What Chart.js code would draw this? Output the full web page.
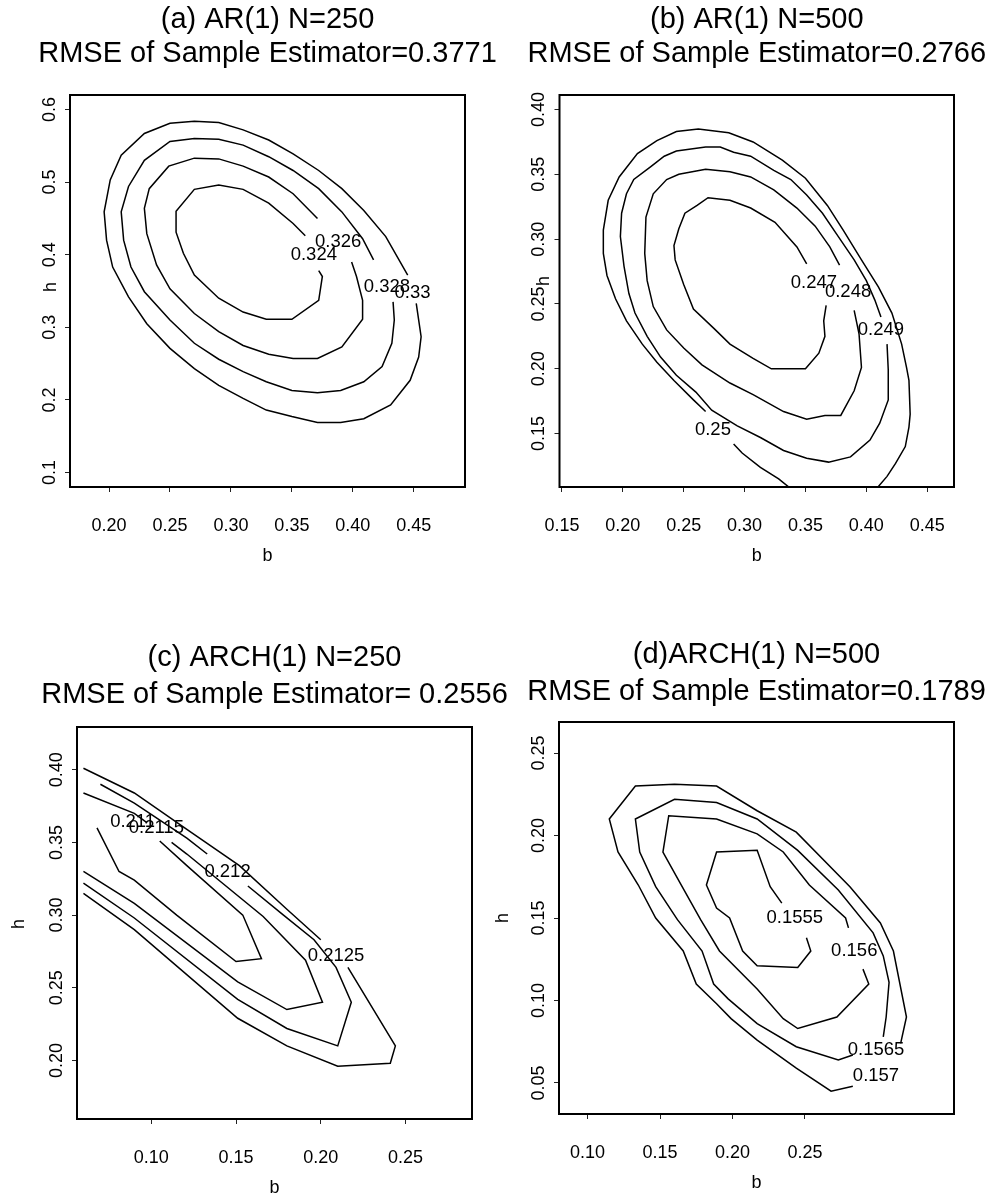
<!DOCTYPE html>
<html>
<head>
<meta charset="utf-8">
<title>RMSE contours over b and h</title>
<script src="https://cdn.jsdelivr.net/npm/chart.js@4.4.1/dist/chart.umd.min.js"></script>
<style>
  html, body { margin: 0; padding: 0; background: #fff; }
  #page { position: relative; width: 993px; height: 1196px; background: #fff; }
  #page canvas { position: absolute; left: 0; top: 0; }
</style>
</head>
<body>
<div id="page">
  <canvas id="panelA" width="993" height="1196"></canvas>
  <canvas id="panelB" width="993" height="1196"></canvas>
  <canvas id="panelC" width="993" height="1196"></canvas>
  <canvas id="panelD" width="993" height="1196"></canvas>
</div>
<script>
// contour lines are [b, h] pairs; null marks a break where a level label sits

// (a) AR(1) N=250
const levelsA = ['0.324', '0.326', '0.328', '0.33'];
const lineA1 = [[0.372,0.378],[0.375,0.370],[0.372,0.337],[0.350,0.311],[0.329,0.311],[0.310,0.321],[0.290,0.340],[0.270,0.372],[0.261,0.402],[0.255,0.431],[0.255,0.460],[0.270,0.490],[0.290,0.496],[0.310,0.490],[0.331,0.471],[0.351,0.443],[0.361,0.426]];
const lineA2 = [[0.399,0.390],[0.403,0.370],[0.408,0.337],[0.408,0.311],[0.391,0.273],[0.371,0.257],[0.351,0.257],[0.331,0.263],[0.310,0.275],[0.290,0.294],[0.270,0.319],[0.250,0.353],[0.239,0.386],[0.231,0.429],[0.229,0.464],[0.233,0.491],[0.249,0.522],[0.270,0.533],[0.290,0.532],[0.310,0.522],[0.331,0.507],[0.351,0.484],[0.371,0.450]];
const lineA3 = [[0.433,0.335],[0.434,0.310],[0.432,0.278],[0.424,0.246],[0.409,0.225],[0.390,0.213],[0.371,0.210],[0.350,0.213],[0.329,0.225],[0.310,0.239],[0.290,0.256],[0.270,0.278],[0.250,0.310],[0.229,0.349],[0.218,0.383],[0.212,0.420],[0.210,0.459],[0.216,0.494],[0.229,0.530],[0.250,0.556],[0.270,0.560],[0.290,0.559],[0.310,0.551],[0.331,0.535],[0.351,0.516],[0.372,0.491],[0.391,0.459],[0.408,0.422],[0.417,0.393]];
const lineA4 = [[0.452,0.333],[0.456,0.287],[0.454,0.259],[0.447,0.227],[0.431,0.193],[0.409,0.174],[0.390,0.169],[0.371,0.169],[0.350,0.177],[0.329,0.186],[0.310,0.202],[0.290,0.220],[0.270,0.243],[0.250,0.271],[0.231,0.305],[0.216,0.342],[0.203,0.383],[0.198,0.420],[0.196,0.459],[0.201,0.503],[0.210,0.537],[0.229,0.567],[0.250,0.581],[0.270,0.584],[0.290,0.582],[0.310,0.572],[0.331,0.558],[0.351,0.539],[0.372,0.516],[0.391,0.491],[0.409,0.461],[0.427,0.425],[0.445,0.372]];
const labelAtA = [[0.368,0.400],[0.388,0.417],[0.428,0.355],[0.449,0.348]];
const bTicksA = ['0.20','0.25','0.30','0.35','0.40','0.45'];
const hTicksA = ['0.1','0.2','0.3','0.4','0.5','0.6'];

// (b) AR(1) N=500
const levelsB = ['0.247', '0.248', '0.249', '0.25'];
const lineB1 = [[0.367,0.249],[0.365,0.237],[0.366,0.225],[0.361,0.212],[0.350,0.200],[0.322,0.200],[0.307,0.208],[0.288,0.219],[0.275,0.231],[0.258,0.246],[0.250,0.265],[0.243,0.284],[0.242,0.295],[0.246,0.308],[0.251,0.320],[0.261,0.326],[0.270,0.332],[0.288,0.330],[0.305,0.324],[0.325,0.313],[0.343,0.294],[0.351,0.281]];
const lineB2 = [[0.390,0.245],[0.394,0.227],[0.396,0.201],[0.390,0.183],[0.379,0.164],[0.366,0.164],[0.351,0.161],[0.332,0.167],[0.307,0.180],[0.288,0.189],[0.265,0.203],[0.250,0.216],[0.236,0.230],[0.225,0.248],[0.220,0.268],[0.218,0.289],[0.219,0.317],[0.225,0.335],[0.236,0.346],[0.246,0.350],[0.268,0.354],[0.288,0.352],[0.305,0.348],[0.324,0.338],[0.343,0.324],[0.358,0.310],[0.370,0.294],[0.378,0.280]];
const lineB3 = [[0.417,0.219],[0.418,0.199],[0.418,0.176],[0.411,0.158],[0.403,0.145],[0.387,0.132],[0.369,0.128],[0.351,0.131],[0.332,0.137],[0.313,0.147],[0.294,0.156],[0.273,0.168],[0.260,0.182],[0.244,0.195],[0.231,0.209],[0.220,0.225],[0.210,0.243],[0.205,0.258],[0.201,0.279],[0.198,0.302],[0.199,0.320],[0.203,0.335],[0.209,0.346],[0.223,0.356],[0.234,0.364],[0.244,0.368],[0.268,0.371],[0.280,0.371],[0.291,0.367],[0.305,0.364],[0.324,0.353],[0.338,0.346],[0.351,0.334],[0.364,0.320],[0.377,0.302],[0.390,0.284],[0.400,0.268],[0.407,0.253],[0.412,0.240]];
const lineB4 = [[0.407,0.106],[0.417,0.117],[0.424,0.127],[0.432,0.140],[0.435,0.155],[0.436,0.165],[0.435,0.191],[0.433,0.201],[0.429,0.219],[0.421,0.243],[0.410,0.263],[0.396,0.284],[0.381,0.307],[0.368,0.326],[0.350,0.347],[0.331,0.361],[0.307,0.375],[0.287,0.382],[0.262,0.385],[0.244,0.383],[0.228,0.376],[0.212,0.366],[0.197,0.348],[0.188,0.330],[0.184,0.307],[0.184,0.289],[0.187,0.272],[0.194,0.254],[0.203,0.237],[0.216,0.219],[0.228,0.205],[0.242,0.191],[0.258,0.176],[0.268,0.167],null,[0.291,0.142],[0.298,0.135],[0.313,0.124],[0.328,0.115],[0.340,0.106]];
const labelAtB = [[0.357,0.266],[0.385,0.259],[0.412,0.230],[0.274,0.153]];
const bTicksB = ['0.15','0.20','0.25','0.30','0.35','0.40','0.45'];
const hTicksB = ['0.15','0.20','0.25','0.30','0.35','0.40'];

// (c) ARCH(1) N=250
const levelsC = ['0.211', '0.2115', '0.212', '0.2125'];
const lineC1 = [[0.068,0.360],[0.081,0.330],[0.090,0.324],[0.115,0.300],[0.150,0.268],[0.165,0.270],[0.154,0.300],[0.121,0.334],[0.105,0.351]];
const lineC2 = [[0.060,0.384],[0.090,0.370],[0.097,0.364],null,[0.112,0.350],[0.121,0.342],[0.166,0.299],[0.191,0.269],[0.201,0.240],[0.180,0.235],[0.151,0.254],[0.090,0.308],[0.060,0.330]];
const lineC3 = [[0.070,0.390],[0.090,0.377],[0.121,0.353],[0.133,0.342],null,[0.157,0.320],[0.178,0.300],[0.196,0.283],[0.209,0.264],[0.218,0.240],[0.210,0.210],[0.180,0.222],[0.151,0.242],[0.090,0.298],[0.060,0.322]];
const lineC4 = [[0.060,0.401],[0.090,0.384],[0.121,0.359],[0.152,0.334],[0.180,0.304],[0.200,0.283],null,[0.216,0.264],[0.244,0.210],[0.241,0.198],[0.210,0.196],[0.180,0.210],[0.151,0.229],[0.090,0.290],[0.060,0.315]];
const labelAtC = [[0.089,0.364],[0.103,0.360],[0.145,0.330],[0.209,0.272]];
const bTicksC = ['0.10','0.15','0.20','0.25'];
const hTicksC = ['0.20','0.25','0.30','0.35','0.40'];

// (d) ARCH(1) N=500
const levelsD = ['0.1555', '0.156', '0.1565', '0.157'];
const lineD1 = [[0.251,0.138],[0.254,0.130],[0.245,0.120],[0.217,0.121],[0.207,0.130],[0.198,0.150],[0.189,0.156],[0.182,0.170],[0.189,0.190],[0.217,0.191],[0.226,0.169],[0.234,0.159]];
const lineD2 = [[0.290,0.119],[0.294,0.110],[0.272,0.090],[0.245,0.083],[0.235,0.089],[0.217,0.107],[0.191,0.130],[0.178,0.149],[0.164,0.171],[0.152,0.190],[0.156,0.212],[0.189,0.210],[0.217,0.201],[0.235,0.190],[0.253,0.170],[0.278,0.150],[0.280,0.144]];
const lineD3 = [[0.283,0.067],[0.273,0.064],[0.244,0.072],[0.217,0.086],[0.197,0.101],[0.187,0.110],[0.179,0.130],[0.162,0.149],[0.147,0.169],[0.136,0.190],[0.133,0.210],[0.160,0.222],[0.189,0.220],[0.217,0.210],[0.245,0.191],[0.273,0.167],[0.297,0.141],[0.304,0.127],[0.308,0.111],[0.306,0.090],[0.304,0.078]];
const lineD4 = [[0.283,0.048],[0.268,0.045],[0.244,0.059],[0.217,0.076],[0.199,0.089],[0.189,0.098],[0.175,0.110],[0.166,0.130],[0.147,0.150],[0.135,0.170],[0.121,0.190],[0.115,0.210],[0.133,0.230],[0.160,0.231],[0.189,0.230],[0.217,0.215],[0.244,0.202],[0.281,0.169],[0.302,0.147],[0.311,0.130],[0.320,0.090],[0.316,0.074]];
const labelAtD = [[0.243,0.150],[0.284,0.130],[0.299,0.070],[0.299,0.054]];
const bTicksD = ['0.10','0.15','0.20','0.25'];
const hTicksD = ['0.05','0.10','0.15','0.20','0.25'];

const FONT = "'Liberation Sans', Arial, Helvetica, sans-serif";
const PAGE_W = 993, PAGE_H = 1196;
const Y_BOX = 40, X_BOX = 70;

// frame [left, top, right, bottom] in page pixels, axis limits, text placement
const panels = [
  { canvas: 'panelA', title: ['(a) AR(1) N=250', 'RMSE of Sample Estimator=0.3771'],
    frame: [70, 95, 465, 487], titleBase: [28, 62], hAt: [51, 287],
    bRange: [0.168, 0.492], hRange: [0.080, 0.620],
    lines: [lineA1, lineA2, lineA3, lineA4], levels: levelsA, labelAt: labelAtA, bTicks: bTicksA, hTicks: hTicksA },
  { canvas: 'panelB', title: ['(b) AR(1) N=500', 'RMSE of Sample Estimator=0.2766'],
    frame: [559.5, 95, 954, 487], titleBase: [28, 62], hAt: [544, 281],
    bRange: [0.148, 0.472], hRange: [0.1088, 0.4112],
    lines: [lineB1, lineB2, lineB3, lineB4], levels: levelsB, labelAt: labelAtB, bTicks: bTicksB, hTicks: hTicksB },
  { canvas: 'panelC', title: ['(c) ARCH(1) N=250', 'RMSE of Sample Estimator= 0.2556'],
    frame: [77, 727, 472, 1119], titleBase: [666, 703], hAt: [19, 924],
    bRange: [0.0562, 0.2892], hRange: [0.1597, 0.4294],
    lines: [lineC1, lineC2, lineC3, lineC4], levels: levelsC, labelAt: labelAtC, bTicks: bTicksC, hTicks: hTicksC },
  { canvas: 'panelD', title: ['(d)ARCH(1) N=500', 'RMSE of Sample Estimator=0.1789'],
    frame: [559, 722, 954, 1114], titleBase: [663, 700], hAt: [503, 918],
    bRange: [0.0803, 0.3528], hRange: [0.0312, 0.2688],
    lines: [lineD1, lineD2, lineD3, lineD4], levels: levelsD, labelAt: labelAtD, bTicks: bTicksD, hTicks: hTicksD }
];

// split a polyline at its null breaks
function splitRuns(line) {
  const runs = [[]];
  line.forEach(pt => {
    if (pt === null) runs.push([]);
    else runs[runs.length - 1].push(pt);
  });
  return runs.filter(r => r.length > 1);
}

function tickText(list, v) {
  const hit = list.find(s => Math.abs(parseFloat(s) - v) < 1e-9);
  return hit !== undefined ? hit : '';
}

// box, titles, rotated h tick labels, axis names and level labels
const panelText = {
  id: 'panelText',
  afterDraw(chart, args, opts) {
    const { ctx, chartArea: area } = chart;
    const xs = chart.scales.x, ys = chart.scales.y;
    ctx.save();
    ctx.strokeStyle = '#000';
    ctx.lineWidth = 2;
    ctx.strokeRect(area.left, area.top, area.right - area.left, area.bottom - area.top);

    ctx.fillStyle = '#000';
    ctx.textAlign = 'center';
    ctx.textBaseline = 'alphabetic';
    const cx = (area.left + area.right) / 2;
    ctx.font = `29px ${FONT}`;
    ctx.fillText(opts.title[0], cx, opts.titleBase[0]);
    ctx.fillText(opts.title[1], cx, opts.titleBase[1]);

    ctx.font = `18px ${FONT}`;
    ys.ticks.forEach(t => {
      ctx.save();
      ctx.translate(area.left - 15.5, ys.getPixelForValue(t.value));
      ctx.rotate(-Math.PI / 2);
      ctx.fillText(t.label, 0, 0);
      ctx.restore();
    });

    ctx.fillText('b', cx, area.bottom + 73.5);
    ctx.save();
    ctx.translate(opts.hAt[0], opts.hAt[1]);
    ctx.rotate(-Math.PI / 2);
    ctx.textBaseline = 'middle';
    ctx.fillText('h', 0, 0);
    ctx.restore();

    ctx.font = `18.5px ${FONT}`;
    ctx.textBaseline = 'middle';
    opts.levels.forEach((lv, i) => {
      const [b, h] = opts.labelAt[i];
      ctx.fillText(lv, xs.getPixelForValue(b), ys.getPixelForValue(h));
    });
    ctx.restore();
  }
};

function drawPanel(p) {
  const datasets = [];
  p.lines.forEach(line => {
    splitRuns(line).forEach(run => {
      datasets.push({
        data: run.map(([b, h]) => ({ x: b, y: h })),
        showLine: true,
        borderColor: '#000',
        borderWidth: 1.5,
        pointRadius: 0,
        tension: 0,
        fill: false
      });
    });
  });

  const tickGrid = { display: true, drawOnChartArea: false, drawTicks: true, tickLength: 5, color: '#222', lineWidth: 1 };
  const [left, top, right, bottom] = p.frame;

  new Chart(document.getElementById(p.canvas), {
    type: 'scatter',
    data: { datasets },
    options: {
      responsive: false,
      animation: false,
      events: [],
      layout: {
        padding: { left: left - Y_BOX, top: top, right: PAGE_W - right, bottom: PAGE_H - bottom - X_BOX }
      },
      plugins: {
        legend: { display: false },
        tooltip: { enabled: false },
        panelText: { title: p.title, titleBase: p.titleBase, hAt: p.hAt, levels: p.levels, labelAt: p.labelAt }
      },
      scales: {
        x: {
          type: 'linear',
          min: p.bRange[0],
          max: p.bRange[1],
          afterBuildTicks: s => { s.ticks = p.bTicks.map(v => ({ value: parseFloat(v) })); },
          afterFit: s => { s.height = X_BOX; },
          ticks: {
            autoSkip: false,
            maxRotation: 0,
            padding: 23.5,
            color: '#000',
            font: { family: FONT, size: 18 },
            callback: v => tickText(p.bTicks, v)
          },
          grid: tickGrid,
          border: { display: false }
        },
        y: {
          type: 'linear',
          min: p.hRange[0],
          max: p.hRange[1],
          afterBuildTicks: s => { s.ticks = p.hTicks.map(v => ({ value: parseFloat(v) })); },
          afterFit: s => { s.width = Y_BOX; },
          ticks: { display: false, callback: v => tickText(p.hTicks, v) },
          grid: tickGrid,
          border: { display: false }
        }
      }
    },
    plugins: [panelText]
  });
}

panels.forEach(drawPanel);
</script>
</body>
</html>
